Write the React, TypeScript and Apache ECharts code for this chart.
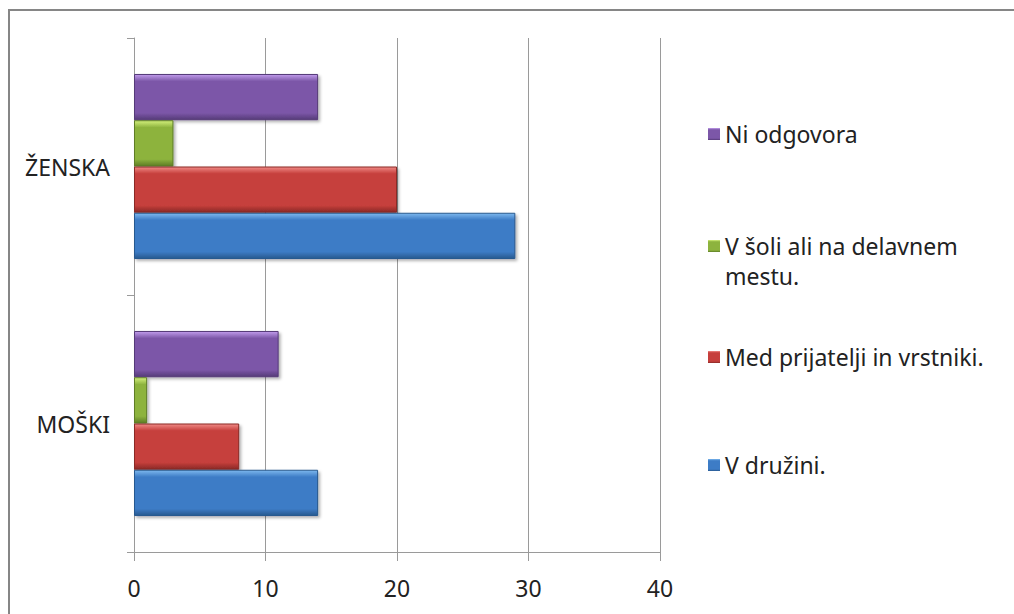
import React, { useEffect, useRef } from "react";
import * as echarts from "echarts";

const categories = ["MOŠKI", "ŽENSKA"];
// order: top bar in each band first
const seriesNames = [
  "Ni odgovora",
  "V šoli ali na delavnem mestu.",
  "Med prijatelji in vrstniki.",
  "V družini.",
];
const niOdgovora = [11, 14];
const vSoli = [1, 3];
const medPrijatelji = [8, 20];
const vDruzini = [14, 29];
const xTicks = [0, 10, 20, 30, 40];

const palette = [
  { top: "#c19cec", mid: "#7c57a8", bot: "#553a78" },
  { top: "#d3f07c", mid: "#8db33e", bot: "#5e7d26" },
  { top: "#f08a86", mid: "#c63f3c", bot: "#8a2a27" },
  { top: "#7db8ee", mid: "#3d7cc6", bot: "#28598f" },
];

const grad = (p: { top: string; mid: string; bot: string }, k = 1) =>
  new echarts.graphic.LinearGradient(0, 0, 0, 1, [
    { offset: 0, color: p.top },
    { offset: 0.15 * k, color: p.mid },
    { offset: 0.85 * k, color: p.mid },
    { offset: 1 * k, color: p.bot },
    { offset: 1, color: p.bot },
  ]);

const FONT = "Noto Sans";
const FS = 23;

export default function App() {
  const ref = useRef<HTMLDivElement>(null);
  useEffect(() => {
    if (!ref.current) return;
    const chart = echarts.init(ref.current, null, { renderer: "svg" });
    const values = [niOdgovora, vSoli, medPrijatelji, vDruzini];
    const legendTops = [119, 231, 342, 450];
    const legendName = (n: string) =>
      n === "V šoli ali na delavnem mestu." ? "V šoli ali na delavnem\nmestu." : n;
    chart.setOption({
      animation: false,
      backgroundColor: "#fff",
      textStyle: { fontFamily: FONT },
      graphic: [
        {
          type: "rect",
          shape: { x: 9, y: 10, width: 1100, height: 700 },
          style: { fill: "none", stroke: "#868686", lineWidth: 2 },
          silent: true,
        },
      ],
      grid: { left: 134, top: 38, right: 354, bottom: 62, containLabel: false },
      xAxis: {
        type: "value",
        min: 0,
        max: 40,
        interval: 10,
        axisLine: { show: true, lineStyle: { color: "#9a9a9a", width: 1 } },
        axisTick: { show: true, length: 9, lineStyle: { color: "#9a9a9a" } },
        splitLine: { show: true, lineStyle: { color: "#9a9a9a", width: 1 } },
        axisLabel: {
          margin: 24,
          fontSize: FS,
          color: "#222",
          fontFamily: FONT,
          customValues: xTicks,
        },
      },
      yAxis: {
        type: "category",
        data: categories,
        axisLine: { show: true, lineStyle: { color: "#9a9a9a", width: 1 } },
        axisTick: { show: true, length: 7, inside: false, lineStyle: { color: "#9a9a9a" } },
        axisLabel: { margin: 24, fontSize: FS, color: "#222", fontFamily: FONT },
      },
      legend: seriesNames.map((n, i) => {
        const multi = i === 1;
        return {
          data: [n],
          orient: "vertical",
          left: 708,
          top: legendTops[i],
          padding: 0,
          itemWidth: 12,
          itemHeight: multi ? 42 : 12,
          itemGap: 0,
          icon: multi ? "path://M0,0L12,0L12,12L0,12Z M0,42L12,42" : "rect",
          formatter: legendName,
          selectedMode: false,
          itemStyle: {
            borderWidth: 0,
            color: grad(palette[i], multi ? 12 / 42 : 1),
          },
          textStyle: {
            fontSize: FS,
            color: "#222",
            fontFamily: FONT,
            lineHeight: 30,
          },
        };
      }),
      series: seriesNames.map((n, i) => ({
        name: n,
        type: "bar",
        data: values[i],
        barGap: "0%",
        barCategoryGap: "28%",
        itemStyle: {
          color: grad(palette[i]),
          borderColor: palette[i].bot,
          borderWidth: 1,
          shadowColor: "rgba(0,0,0,0.3)",
          shadowBlur: 3,
          shadowOffsetX: 2,
          shadowOffsetY: 2,
        },
      })),
    });
    return () => chart.dispose();
  }, []);
  return (
    <div
      ref={ref}
      style={{ position: "fixed", left: 0, top: 0, width: 1014, height: 614 }}
    />
  );
}
